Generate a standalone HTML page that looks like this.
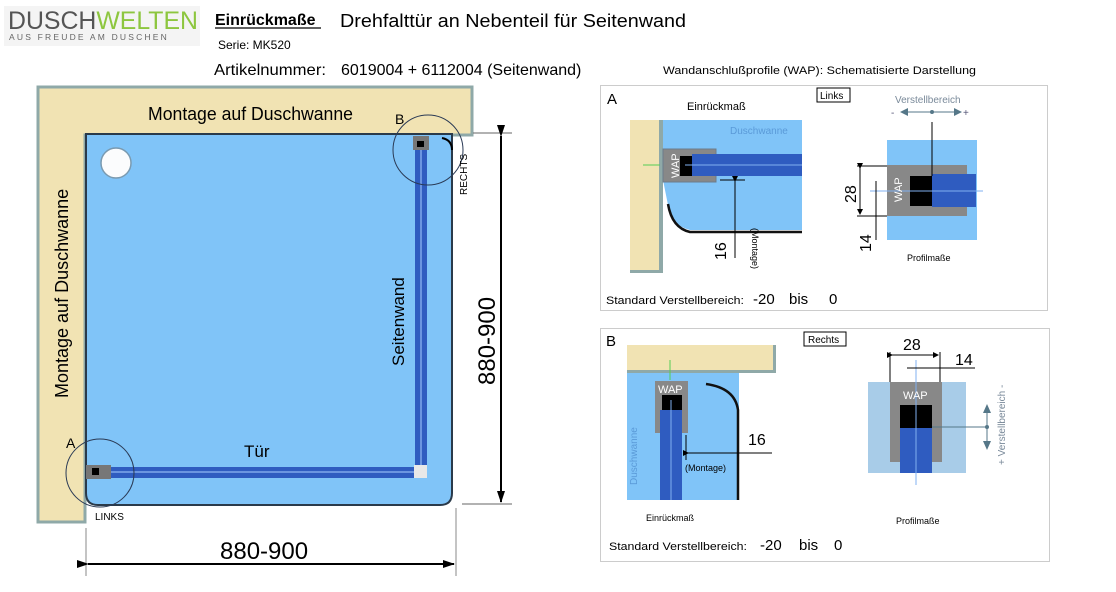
<!DOCTYPE html>
<html><head><meta charset="utf-8"><style>
html,body{margin:0;padding:0;background:#fff;}
svg{display:block;font-family:"Liberation Sans",sans-serif;}
</style></head><body>
<svg width="1116" height="592" viewBox="0 0 1116 592" xmlns="http://www.w3.org/2000/svg">
<defs>
<marker id="ar" markerWidth="12" markerHeight="8" refX="11" refY="4" orient="auto" markerUnits="userSpaceOnUse"><path d="M0,0 L12,4 L0,8 z" fill="#000"/></marker>
<marker id="as" markerWidth="6" markerHeight="6" refX="5" refY="3" orient="auto" markerUnits="userSpaceOnUse"><path d="M0,0 L6,3 L0,6 z" fill="#000"/></marker>
</defs>
<!-- header -->
<rect x="4" y="6" width="196" height="40" fill="#f4f4f4"/>
<text x="8" y="29" font-size="25" fill="#555" textLength="190" lengthAdjust="spacingAndGlyphs">DUSCH<tspan fill="#8dc63f">WELTEN</tspan></text>
<text x="9" y="40" font-size="8.5" fill="#666" letter-spacing="2.2">AUS FREUDE AM DUSCHEN</text>
<text x="215" y="25" font-size="16" font-weight="bold" fill="#000">Einrückmaße</text>
<line x1="215" y1="28" x2="321" y2="28" stroke="#000" stroke-width="1.3"/>
<text x="340" y="27" font-size="18" fill="#000" textLength="346" lengthAdjust="spacingAndGlyphs">Drehfalttür an Nebenteil für Seitenwand</text>
<text x="218" y="49" font-size="12" fill="#000">Serie: MK520</text>
<text x="214" y="75" font-size="16" fill="#000" textLength="112" lengthAdjust="spacingAndGlyphs">Artikelnummer:</text>
<text x="341" y="75" font-size="16" fill="#000">6019004 + 6112004 (Seitenwand)</text>
<text x="663" y="74" font-size="11" fill="#000" textLength="313" lengthAdjust="spacingAndGlyphs">Wandanschlußprofile (WAP): Schematisierte Darstellung</text>

<!-- main plan -->
<path d="M38,87 H472 V135 H85 V522 H38 Z" fill="#f1e3b3" stroke="#8fa9a8" stroke-width="3"/>
<path d="M86,134 H452 V493 Q452,505 440,505 H98 Q86,505 86,493 Z" fill="#80c4f8" stroke="#2a3a4a" stroke-width="2"/>
<circle cx="116" cy="163" r="15" fill="#fbfcfd" stroke="#7a9ab0" stroke-width="1.5"/>
<rect x="415" y="140" width="12" height="325" fill="#2f5cc0"/>
<rect x="420" y="140" width="2" height="325" fill="#6b95e0"/>
<rect x="413" y="136" width="16" height="14" fill="#777"/>
<rect x="417" y="141" width="7" height="6" fill="#000"/>
<rect x="90" y="467" width="328" height="11" fill="#2f5cc0"/>
<rect x="90" y="471" width="328" height="2" fill="#6b95e0"/>
<rect x="414" y="465" width="13" height="13" fill="#e8e8e8"/>
<rect x="86" y="465" width="25" height="14" fill="#777"/>
<rect x="92" y="468" width="7" height="7" fill="#000"/>
<circle cx="428" cy="150" r="35" fill="none" stroke="#2a3a55" stroke-width="1"/>
<circle cx="100" cy="473" r="34" fill="none" stroke="#2a3a55" stroke-width="1"/>
<path d="M442,138 Q452,140 452,150" fill="none" stroke="#000" stroke-width="2"/>
<text x="395" y="124" font-size="14">B</text>
<text x="66" y="448" font-size="14">A</text>
<text x="95" y="520" font-size="10">LINKS</text>
<text transform="translate(467,195) rotate(-90)" font-size="10">RECHTS</text>
<text x="148" y="120" font-size="18" textLength="205" lengthAdjust="spacingAndGlyphs">Montage auf Duschwanne</text>
<text transform="translate(68,398) rotate(-90)" font-size="18">Montage auf Duschwanne</text>
<text transform="translate(404,366) rotate(-90)" font-size="17">Seitenwand</text>
<text x="244" y="457" font-size="17">Tür</text>
<!-- dims -->
<line x1="473" y1="133" x2="512" y2="133" stroke="#666"/>
<line x1="462" y1="504" x2="512" y2="504" stroke="#666"/>
<line x1="501" y1="136" x2="501" y2="502" stroke="#000" stroke-width="2" marker-start="url(#ar)" marker-end="url(#ar)"/>
<text transform="translate(495,385) rotate(-90)" font-size="24">880-900</text>
<line x1="86" y1="528" x2="86" y2="576" stroke="#888"/>
<line x1="456" y1="508" x2="456" y2="576" stroke="#888"/>
<line x1="88" y1="564" x2="454" y2="564" stroke="#000" stroke-width="2" marker-start="url(#ar)" marker-end="url(#ar)"/>
<text x="220" y="559" font-size="24">880-900</text>

<!-- Panel A -->
<rect x="600.5" y="85.5" width="447" height="225" fill="#fff" stroke="#ccc"/>
<text x="607" y="104" font-size="15">A</text>
<text x="687" y="110" font-size="11">Einrückmaß</text>
<rect x="817" y="88" width="33" height="14" fill="#fff" stroke="#000"/>
<text x="820" y="99" font-size="10">Links</text>
<rect x="630" y="120" width="33" height="153" fill="#f1e3b3"/>
<rect x="659" y="120" width="4" height="153" fill="#8fa9a8"/>
<rect x="630" y="270" width="33" height="3" fill="#8fa9a8"/>
<rect x="663" y="120" width="139" height="113" fill="#80c4f8"/>
<path d="M663,180 V233 H802 V230 H690 Q670,225 668,205 Z" fill="#fff"/>
<path d="M668,204 Q672,228 690,232 H802" fill="none" stroke="#111" stroke-width="2.5"/>
<text x="730" y="134" font-size="10" fill="#5a9ad8">Duschwanne</text>
<rect x="663" y="149" width="53" height="33" fill="#888"/>
<rect x="663" y="149" width="53" height="33" fill="none" stroke="#6b7b8b"/>
<rect x="680" y="156" width="12" height="20" fill="#000"/>
<rect x="692" y="154" width="110" height="22" fill="#2f5cc0"/>
<line x1="685" y1="165" x2="802" y2="165" stroke="#80b0f0"/>
<line x1="643" y1="165" x2="660" y2="165" stroke="#5c5"/>
<text transform="translate(679,178) rotate(-90)" font-size="11" fill="#fff">WAP</text>
<line x1="720" y1="180" x2="745" y2="180" stroke="#000"/>
<line x1="735" y1="181" x2="735" y2="258" stroke="#000" marker-start="url(#as)"/>
<text transform="translate(752,228) rotate(90)" font-size="9">(Montage)</text>
<text transform="translate(726,260) rotate(-90)" font-size="16">16</text>
<text x="895" y="103" font-size="10" fill="#7a8a9a">Verstellbereich</text>
<text x="891" y="116" font-size="10" fill="#557">-</text>
<text x="963" y="116" font-size="10" fill="#557">+</text>
<line x1="902" y1="112" x2="960" y2="112" stroke="#578"/>
<path d="M900,112 L908,108 L908,116 Z M962,112 L954,108 L954,116 Z" fill="#578"/>
<circle cx="932" cy="112" r="2" fill="#578"/>
<rect x="887" y="140" width="90" height="100" fill="#80c4f8"/>
<rect x="887" y="165" width="80" height="51" fill="#888"/>
<rect x="910" y="176" width="22" height="30" fill="#000"/>
<rect x="932" y="174" width="44" height="33" fill="#2f5cc0"/>
<line x1="870" y1="191" x2="983" y2="191" stroke="#80b0f0"/>
<line x1="932" y1="122" x2="932" y2="176" stroke="#000"/>
<text transform="translate(902,202) rotate(-90)" font-size="11" fill="#fff">WAP</text>
<line x1="857" y1="166" x2="887" y2="166" stroke="#000"/>
<line x1="857" y1="216" x2="887" y2="216" stroke="#000"/>
<line x1="860" y1="168" x2="860" y2="214" stroke="#000" marker-start="url(#as)" marker-end="url(#as)"/>
<text transform="translate(856,203) rotate(-90)" font-size="16">28</text>
<line x1="876" y1="181" x2="876" y2="240" stroke="#000"/>
<text transform="translate(871,252) rotate(-90)" font-size="16">14</text>
<text x="907" y="261" font-size="9">Profilmaße</text>
<text x="606" y="304" font-size="11" textLength="138" lengthAdjust="spacingAndGlyphs">Standard Verstellbereich:</text>
<text x="753" y="304" font-size="15">-20</text>
<text x="789" y="304" font-size="15">bis</text>
<text x="829" y="304" font-size="15">0</text>

<!-- Panel B -->
<rect x="600.5" y="328.5" width="449" height="233" fill="#fff" stroke="#ccc"/>
<text x="606" y="346" font-size="15">B</text>
<rect x="804" y="332" width="42" height="14" fill="#fff" stroke="#000"/>
<text x="808" y="343" font-size="10">Rechts</text>
<rect x="627" y="345" width="149" height="28" fill="#f1e3b3"/>
<rect x="773" y="345" width="3" height="28" fill="#8fa9a8"/>
<rect x="627" y="370" width="149" height="3" fill="#8fa9a8"/>
<rect x="627" y="373" width="112" height="127" fill="#80c4f8"/>
<line x1="670" y1="360" x2="670" y2="380" stroke="#5c5"/>
<path d="M706,384 Q735,388 738,410 V500" fill="none" stroke="#111" stroke-width="2.5"/>
<rect x="655" y="381" width="33" height="52" fill="#888"/>
<rect x="662" y="395" width="20" height="15" fill="#000"/>
<rect x="660" y="410" width="22" height="90" fill="#2f5cc0"/>
<line x1="671" y1="400" x2="671" y2="500" stroke="#80b0f0"/>
<text x="658" y="393" font-size="11" fill="#fff">WAP</text>
<text transform="translate(637,485) rotate(-90)" font-size="10" fill="#5a9ad8">Duschwanne</text>
<line x1="686" y1="435" x2="686" y2="460" stroke="#000"/>
<line x1="688" y1="453" x2="772" y2="453" stroke="#000" marker-start="url(#as)"/>
<text x="685" y="471" font-size="9">(Montage)</text>
<text x="748" y="445" font-size="16">16</text>
<text x="646" y="521" font-size="9">Einrückmaß</text>
<rect x="868" y="382" width="98" height="91" fill="#a8cce8"/>
<rect x="890" y="382" width="52" height="80" fill="#888"/>
<rect x="900" y="405" width="32" height="23" fill="#000"/>
<rect x="900" y="428" width="32" height="45" fill="#2f5cc0"/>
<line x1="916" y1="360" x2="916" y2="485" stroke="#80b0f0"/>
<line x1="932" y1="427" x2="987" y2="427" stroke="#578"/>
<text x="903" y="399" font-size="11" fill="#fff">WAP</text>
<line x1="890" y1="352" x2="890" y2="382" stroke="#000"/>
<line x1="940" y1="352" x2="940" y2="382" stroke="#000"/>
<line x1="892" y1="355" x2="938" y2="355" stroke="#000" marker-start="url(#as)" marker-end="url(#as)"/>
<text x="903" y="350" font-size="16">28</text>
<line x1="907" y1="368" x2="975" y2="368" stroke="#000"/>
<text x="955" y="365" font-size="16">14</text>
<line x1="987" y1="408" x2="987" y2="446" stroke="#578"/>
<path d="M987,404 L983,413 L991,413 Z M987,450 L983,441 L991,441 Z" fill="#578"/>
<circle cx="987" cy="427" r="2" fill="#578"/>
<text transform="translate(1005,465) rotate(-90)" font-size="10" fill="#7a8a9a">+ Verstellbereich -</text>
<text x="896" y="524" font-size="9">Profilmaße</text>
<text x="609" y="550" font-size="11" textLength="138" lengthAdjust="spacingAndGlyphs">Standard Verstellbereich:</text>
<text x="760" y="550" font-size="15">-20</text>
<text x="799" y="550" font-size="15">bis</text>
<text x="834" y="550" font-size="15">0</text>
</svg>
</body></html>
